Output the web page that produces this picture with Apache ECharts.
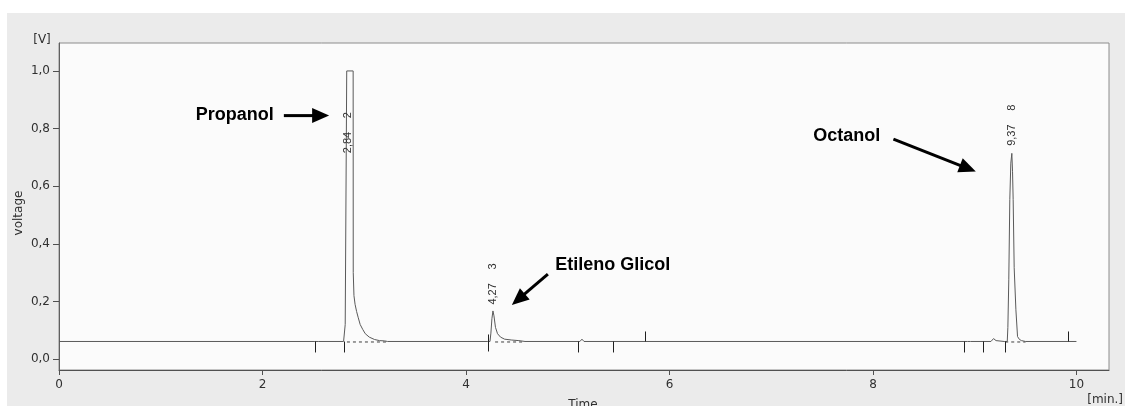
<!DOCTYPE html>
<html>
<head>
<meta charset="utf-8">
<script src="https://cdn.jsdelivr.net/npm/echarts@6/dist/echarts.min.js"></script>
<style>
  html, body { margin: 0; padding: 0; background: #ffffff; width: 1125px; height: 406px; overflow: hidden; }
  #frame { position: absolute; left: 7px; top: 13px; width: 1118px; height: 393px; background: #ebebeb; }
  #chart { width: 1118px; height: 393px; }
</style>
</head>
<body>
<div id="frame"><div id="chart"></div></div>
<script>
// Detector trace: retention time [min] and signal [V]
const traceTime = [
  0.000, 2.515, 2.548, 2.553, 2.560, 2.797, 2.810, 2.813, 2.826, 2.828,
  2.891, 2.892, 2.899, 2.910, 2.925, 2.940, 2.960, 2.985, 3.010, 3.050,
  3.100, 3.150, 3.200, 3.230, 4.214, 4.236, 4.245, 4.255, 4.265, 4.275,
  4.290, 4.310, 4.340, 4.380, 4.450, 4.520, 4.580, 5.120, 5.140, 5.160,
  8.930, 8.945, 8.960, 9.160, 9.185, 9.210, 9.290, 9.320, 9.326, 9.335,
  9.345, 9.355, 9.365, 9.372, 9.378, 9.388, 9.405, 9.421, 9.440, 9.460,
  9.475, 9.500, 10.000
];
const traceVolt = [
  0.061, 0.061, 0.061, 0.064, 0.061, 0.061, 0.061, 0.120, 0.125, 1.000,
  1.000, 0.300, 0.220, 0.190, 0.165, 0.145, 0.120, 0.103, 0.088, 0.076,
  0.068, 0.064, 0.063, 0.061, 0.061, 0.061, 0.090, 0.140, 0.167, 0.150,
  0.110, 0.088, 0.076, 0.069, 0.066, 0.064, 0.061, 0.061, 0.069, 0.061,
  0.061, 0.064, 0.061, 0.061, 0.071, 0.064, 0.061, 0.061, 0.110, 0.275,
  0.553, 0.680, 0.714, 0.650, 0.553, 0.317, 0.171, 0.078, 0.068, 0.064,
  0.066, 0.061, 0.061
];

// Integration baseline level and integration events (up / down / both)
const baseLevel = 0.061;
const eventTimes = [2.515, 2.797, 4.214, 5.097, 5.441, 5.756, 8.896, 9.077, 9.299, 9.919];
const eventKinds = ['down', 'down', 'both', 'down', 'down', 'up', 'down', 'down', 'down', 'up'];

// Dashed baselines drawn under the integrated peaks
const peakBaseStart = [2.830, 4.286, 9.300];
const peakBaseEnd   = [3.230, 4.580, 9.500];

// Peak retention times, peak numbers and the level where their labels start
const peakTimes  = [2.84, 4.27, 9.37];
const peakNums   = ['2', '3', '8'];
const peakLabelV = [0.7145, 0.189, 0.74];

// Compound annotations: text anchor, arrow tail and arrow tip (time, voltage)
const annotNames = ['Propanol', 'Etileno Glicol', 'Octanol'];
const annotAlign = ['right', 'left', 'left'];
const annotTextT = [2.110, 4.877, 7.413];
const annotTextV = [0.847, 0.327, 0.775];
const annotTailT = [2.210, 4.805, 8.201];
const annotTailV = [0.845, 0.295, 0.763];
const annotTipT  = [2.655, 4.451, 9.011];
const annotTipV  = [0.845, 0.188, 0.651];

// Axis tick values
const xTicks = [0, 2, 4, 6, 8, 10];
const yTicks = [0, 0.2, 0.4, 0.6, 0.8, 1.0];

const tracePoints = traceTime.map((t, i) => [t, traceVolt[i]]);
const kindCode = { up: 1, down: -1, both: 0 };
const eventData = eventTimes.map((t, i) => [t, kindCode[eventKinds[i]]]);
const peakBaseData = peakBaseStart.map((s, i) => [s, peakBaseEnd[i]]);
const peakLabelData = peakTimes.map((t, i) => [t, peakLabelV[i], i]);
const annotData = annotNames.map((n, i) => [annotTextT[i], annotTextV[i], annotTailT[i], annotTailV[i], annotTipT[i], annotTipV[i], i]);

const commaFmt = v => v.toFixed(1).replace('.', ',');
const axisFont = '"DejaVu Sans", sans-serif';

const chart = echarts.init(document.getElementById('chart'), null, { renderer: 'canvas' });

chart.setOption({
  animation: false,
  backgroundColor: '#ebebeb',
  grid: {
    left: 52, top: 30, right: 16, bottom: 36,
    show: true, backgroundColor: '#fbfbfb', borderColor: '#8c8c8c', borderWidth: 1
  },
  xAxis: {
    type: 'value', min: 0, max: 10.32, interval: 2,
    axisLine: { show: true, onZero: false, lineStyle: { color: '#505050', width: 1 } },
    axisTick: { show: true, length: 5, lineStyle: { color: '#505050' }, customValues: xTicks },
    axisLabel: { margin: 9, color: '#303030', fontSize: 12, fontFamily: axisFont, customValues: xTicks,
                 formatter: v => String(v) },
    splitLine: { show: false }
  },
  yAxis: {
    type: 'value', min: -0.038, max: 1.097,
    axisLine: { show: true, onZero: false, lineStyle: { color: '#606060', width: 1 } },
    axisTick: { show: true, length: 6, lineStyle: { color: '#505050' }, customValues: yTicks },
    axisLabel: { margin: 9, color: '#303030', fontSize: 12, fontFamily: axisFont, customValues: yTicks,
                 formatter: commaFmt },
    splitLine: { show: false }
  },
  graphic: [
    { type: 'text', x: 35, y: 27, style: { text: '[V]', fill: '#303030', font: '12px ' + axisFont, align: 'center', verticalAlign: 'middle' } },
    { type: 'text', x: 12, y: 200, rotation: Math.PI / 2, style: { text: 'voltage', fill: '#303030', font: '12px ' + axisFont, align: 'center', verticalAlign: 'middle' } },
    { type: 'text', x: 576, y: 386, style: { text: 'Time', fill: '#303030', font: '12px ' + axisFont, align: 'center', verticalAlign: 'top' } },
    { type: 'text', x: 1116, y: 387, style: { text: '[min.]', fill: '#303030', font: '12px ' + axisFont, align: 'right', verticalAlign: 'middle' } }
  ],
  series: [
    {
      name: 'signal', type: 'line', data: tracePoints, showSymbol: false, symbol: 'none',
      lineStyle: { color: '#5a5a5a', width: 1 }, z: 3
    },
    {
      name: 'peak baselines', type: 'custom', data: peakBaseData, z: 2,
      renderItem: (params, api) => {
        const a = api.coord([api.value(0), baseLevel]);
        const b = api.coord([api.value(1), baseLevel]);
        return { type: 'line', shape: { x1: a[0], y1: a[1] + 0.5, x2: b[0], y2: b[1] + 0.5 },
                 style: { stroke: '#404040', lineWidth: 1, lineDash: [3, 3] } };
      }
    },
    {
      name: 'events', type: 'custom', data: eventData, z: 4,
      renderItem: (params, api) => {
        const p = api.coord([api.value(0), baseLevel]);
        const k = api.value(1);
        const up = k === 1 ? 10 : (k === 0 ? 7 : 0);
        const down = k === -1 ? 11 : (k === 0 ? 10 : 0);
        const x = Math.round(p[0]) + 0.5;
        return { type: 'line', shape: { x1: x, y1: p[1] - up, x2: x, y2: p[1] + down },
                 style: { stroke: '#202020', lineWidth: 1 } };
      }
    },
    {
      name: 'peak labels', type: 'custom', data: peakLabelData, z: 5,
      renderItem: (params, api) => {
        const p = api.coord([api.value(0), api.value(1)]);
        const i = api.value(2);
        const font = '11px "Liberation Sans", Arial, sans-serif';
        return { type: 'group', children: [
          { type: 'text', x: p[0], y: p[1], rotation: Math.PI / 2,
            style: { text: commaFmt2(peakTimes[i]), fill: '#303030', font, align: 'left', verticalAlign: 'middle' } },
          { type: 'text', x: p[0], y: p[1] - 35, rotation: Math.PI / 2,
            style: { text: peakNums[i], fill: '#303030', font, align: 'left', verticalAlign: 'middle' } }
        ] };
      }
    },
    {
      name: 'annotations', type: 'custom', data: annotData, z: 6,
      renderItem: (params, api) => {
        const i = api.value(6);
        const tp = api.coord([api.value(0), api.value(1)]);
        const a = api.coord([api.value(2), api.value(3)]);
        const b = api.coord([api.value(4), api.value(5)]);
        const dx = b[0] - a[0], dy = b[1] - a[1];
        const len = Math.hypot(dx, dy);
        const ux = dx / len, uy = dy / len;
        const headL = 17, headW = 7.5;
        const bx = b[0] - ux * headL, by = b[1] - uy * headL;
        const nx = -uy, ny = ux;
        return { type: 'group', children: [
          { type: 'text', x: tp[0], y: tp[1],
            style: { text: annotNames[i], fill: '#000000', font: 'bold 18px "Liberation Sans", Arial, sans-serif',
                     align: annotAlign[i], verticalAlign: 'middle' } },
          { type: 'line', shape: { x1: a[0], y1: a[1], x2: bx + ux * 2, y2: by + uy * 2 },
            style: { stroke: '#000000', lineWidth: 3 } },
          { type: 'polygon', shape: { points: [[b[0], b[1]], [bx + nx * headW, by + ny * headW], [bx - nx * headW, by - ny * headW]] },
            style: { fill: '#000000' } }
        ] };
      }
    }
  ]
});

function commaFmt2(v) { return v.toFixed(2).replace('.', ','); }
</script>
</body>
</html>
